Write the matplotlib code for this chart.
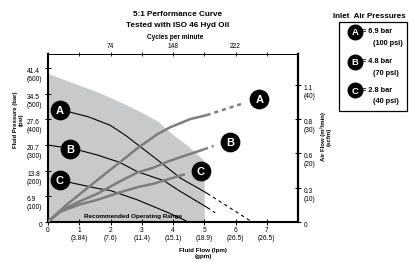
import matplotlib
matplotlib.use('Agg')
import matplotlib.pyplot as plt
import matplotlib.transforms as mtransforms
from matplotlib.patches import Rectangle

plt.rcParams['font.family'] = ['Liberation Sans', 'DejaVu Sans']

# axis ticks / labels
flow_ticks = [0, 1, 2, 3, 4, 5, 6, 7]
flow_labels = ['0', '1\n(3.84)', '2\n(7.6)', '3\n(11.4)', '4\n(15.1)',
               '5\n(18.9)', '6\n(26.5)', '7\n(26.5)']
pressure_ticks = [0, 6.9, 13.8, 20.7, 27.6, 34.5, 41.4]
pressure_labels = ['0', '6.9\n(100)', '13.8\n(200)', '20.7\n(300)',
                   '27.6\n(400)', '34.5\n(500)', '41.4\n(600)']
air_ticks = [0, 10, 20, 30, 40]
air_labels = ['0', '0.3\n(10)', '0.6\n(20)', '0.8\n(30)', '1.1\n(40)']
cycle_ticks = [0, 1, 2, 3, 4, 5, 6, 7, 8]
cycle_labels = ['', '', '74', '', '148', '', '222', '', '']

# recommended operating range (bar)
range_x = [0, 0.8, 1.6, 2.4, 3.0, 3.5, 4.0, 4.5, 5.0]
range_y = [40.0, 37.5, 35.0, 32.0, 29.5, 27.2, 23.5, 20.3, 16.5]

# fluid pressure curves (bar)
pa_x = [0.70, 1.30, 2.00, 2.50, 2.90, 3.50, 3.80, 4.25, 4.86, 5.10]
pa_y = [29.6, 28.3, 26.0, 23.2, 20.6, 16.7, 14.7, 11.7, 8.8, 7.6]
pa_dash_x = [5.10, 6.52]
pa_dash_y = [7.6, 0.0]
pb_x = [0, 0.70, 1.00, 1.58, 2.30, 2.86, 3.70, 4.25, 4.55, 5.10]
pb_y = [20.7, 19.8, 19.3, 18.0, 16.0, 13.5, 11.1, 8.1, 6.6, 3.8]
pb_dash_x = [5.10, 5.35]
pb_dash_y = [3.8, 2.4]
pc_x = [0.70, 1.58, 2.00, 2.86, 3.37, 3.80, 4.25, 4.42]
pc_y = [10.6, 9.0, 8.4, 5.9, 4.1, 2.6, 0.9, 0.2]

# air flow curves (scfm)
aa_x = [0, 0.60, 1.58, 2.30, 2.86, 3.50, 3.90, 4.25, 4.54, 5.08]
aa_y = [0, 5.0, 12.2, 17.4, 21.5, 25.6, 27.6, 28.9, 30.0, 31.2]
aa_dash_x = [5.08, 6.30]
aa_dash_y = [31.2, 34.8]
ab_x = [0, 0.40, 1.00, 1.58, 2.30, 2.86, 3.37, 3.83, 4.44, 5.00]
ab_y = [0, 3.2, 5.9, 8.2, 11.8, 14.4, 15.8, 17.6, 19.5, 21.2]
ab_dash_x = [5.00, 5.30]
ab_dash_y = [21.2, 22.2]
ac_x = [0, 0.40, 1.00, 1.58, 2.30, 2.86, 3.37, 4.38]
ac_y = [0, 2.9, 5.0, 6.4, 8.6, 10.1, 11.1, 13.9]

# curve tags
tags = ['A', 'B', 'C']
ptag_x = [0.38, 0.70, 0.38]
ptag_y = [30.1, 19.6, 11.2]
atag_x = [6.76, 5.82, 4.88]
atag_y = [35.8, 23.2, 14.8]
leg_bar = ['= 6.9 bar', '= 4.8 bar', '= 2.8 bar']
leg_psi = ['(100 psi)', '(70 psi)', '(40 psi)']

W, H = 409, 262
fig = plt.figure(figsize=(W / 100, H / 100), dpi=100)
ax = fig.add_axes([48 / W, 1 - 221.7 / H, 250 / W, 167.4 / H])
ax2 = ax.twinx()

fill_c = '#c8c9ca'
air_c = '#7d7d7d'

ax.fill_between(range_x, 0, range_y, color=fill_c, lw=0, zorder=0)
for xs, ys in [(pa_x, pa_y), (pb_x, pb_y), (pc_x, pc_y)]:
    ax.plot(xs, ys, color='black', lw=0.8, zorder=2)
for xs, ys in [(pa_dash_x, pa_dash_y), (pb_dash_x, pb_dash_y)]:
    ax.plot(xs, ys, color='black', lw=0.8, ls=(0, (3, 3)), zorder=2)

for xs, ys in [(aa_x, aa_y), (ab_x, ab_y), (ac_x, ac_y)]:
    ax2.plot(xs, ys, color=air_c, lw=1.8, solid_capstyle='butt', zorder=3)
for xs, ys in [(aa_dash_x, aa_dash_y), (ab_dash_x, ab_dash_y)]:
    ax2.plot(xs, ys, color=air_c, lw=1.8, ls=(0, (1.6, 1.6)), zorder=3)

for t, x, y in zip(tags, ptag_x, ptag_y):
    ax.scatter([x], [y], s=175, color='black', zorder=5, clip_on=False)
    ax.text(x, y, t, color='white', fontsize=8, fontweight='bold',
            ha='center', va='center_baseline', zorder=6)
for t, x, y in zip(tags, atag_x, atag_y):
    ax2.scatter([x], [y], s=175, color='black', zorder=5, clip_on=False)
    ax2.text(x, y, t, color='white', fontsize=8, fontweight='bold',
             ha='center', va='center_baseline', zorder=6)

ax.text(2.72, 1.5, 'Recommended Operating Range', fontsize=4.6,
        fontweight='bold', ha='center', va='center', zorder=4)

ax.set_xlim(0, 8)
ax.set_ylim(0, 45.2)
ax2.set_ylim(0, 49.0)

ax.set_xticks(flow_ticks)
ax.set_xticklabels(flow_labels, fontsize=4.8)
ax.set_yticks(pressure_ticks)
ax.set_yticklabels(pressure_labels, fontsize=4.8)
ax2.set_yticks(air_ticks)
ax2.set_yticklabels(air_labels, fontsize=4.8)

shift = mtransforms.ScaledTranslation(0, 2.6 / 72, fig.dpi_scale_trans)
for lab in ax.get_yticklabels():
    lab.set_va('top')
    lab.set_ha('right')
    lab.set_multialignment('left')
    lab.set_transform(lab.get_transform() + shift)
for lab in ax2.get_yticklabels():
    lab.set_va('top')
    lab.set_transform(lab.get_transform() + shift)

ax.tick_params(axis='both', direction='inout', length=4, width=0.7, pad=2)
ax2.tick_params(axis='y', direction='inout', length=4, width=0.7, pad=2)

top = ax.secondary_xaxis('top')
top.set_xticks(cycle_ticks)
top.set_xticklabels(cycle_labels, fontsize=4.8)
top.tick_params(direction='inout', length=3, width=0.6, pad=1.5)
top.spines['top'].set_linewidth(0.7)

for s in ['left', 'bottom']:
    ax.spines[s].set_linewidth(1.5)
ax.spines['right'].set_visible(False)
ax.spines['top'].set_linewidth(0.7)
ax2.spines['right'].set_linewidth(1.6)
for s in ['left', 'bottom', 'top']:
    ax2.spines[s].set_visible(False)

# titles and axis labels
fig.text(178 / W, 1 - 15 / H, '5:1 Performance Curve', fontsize=5.9,
         fontweight='bold', ha='center', va='center')
fig.text(178 / W, 1 - 25.5 / H, 'Tested with ISO 46 Hyd Oil', fontsize=5.9,
         fontweight='bold', ha='center', va='center')
fig.text(175 / W, 1 - 37.5 / H, 'Cycles per minute', fontsize=4.7,
         fontweight='bold', ha='center', va='center')
fig.text(18.5 / W, 1 - 120 / H, 'Fluid Pressure (bar)\n(psi)', fontsize=4.3,
         fontweight='bold', ha='center', va='center', rotation=90,
         multialignment='center', linespacing=1.3)
fig.text(326 / W, 1 - 137 / H, 'Air Flow (m³/min)\n(scfm)', fontsize=4.3,
         fontweight='bold', ha='center', va='center', rotation=90,
         multialignment='center', linespacing=1.3)
fig.text(203 / W, 1 - 253.5 / H, 'Fluid Flow (lpm)\n(gpm)', fontsize=4.5,
         fontweight='bold', ha='center', va='center',
         multialignment='center', linespacing=1.4)

# inlet air pressure key
lax = fig.add_axes([0, 0, 1, 1])
lax.set_xlim(0, W)
lax.set_ylim(H, 0)
lax.axis('off')
lax.text(369, 16, 'Inlet  Air Pressures', fontsize=5.8, fontweight='bold',
         ha='center', va='center')
lax.add_patch(Rectangle((339, 22), 68, 89, fill=False, ec='black', lw=0.9))
leg_y = [31.7, 61.7, 90.0]
for t, y, b, p in zip(tags, leg_y, leg_bar, leg_psi):
    lax.scatter([355], [y], s=110, color='black', zorder=5)
    lax.text(355, y, t, color='white', fontsize=6.8, fontweight='bold',
             ha='center', va='center_baseline', zorder=6)
    lax.text(362, y, b, fontsize=5.3, fontweight='bold', ha='left',
             va='center')
    lax.text(373, y + 11.6, p, fontsize=5.3, fontweight='bold', ha='left',
             va='center')

fig.savefig('out.png', dpi=100)
